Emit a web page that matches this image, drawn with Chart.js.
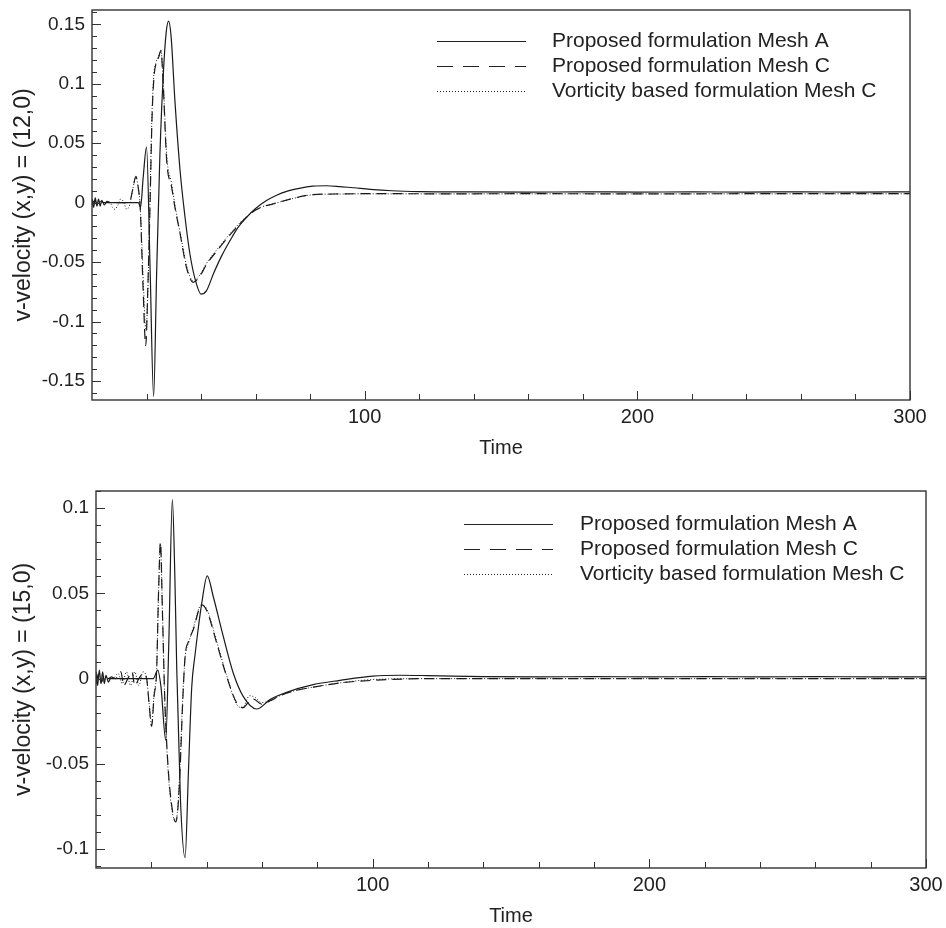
<!DOCTYPE html>
<html>
<head>
<meta charset="utf-8">
<script src="https://cdn.jsdelivr.net/npm/chart.js@4.4.1/dist/chart.umd.min.js"></script>
<style>
  body { margin: 0; background: #fff; }
  .area { position: absolute; left: 0; width: 946px; }
  #area-12 { top: 0; height: 460px; }
  #area-15 { top: 460px; height: 468px; }
</style>
</head>
<body>
<div class="area" id="area-12"><canvas id="grafico-12"></canvas></div>
<div class="area" id="area-15"><canvas id="grafico-15"></canvas></div>
<script>
const rotulos = ["Proposed formulation Mesh A", "Proposed formulation Mesh C", "Vorticity based formulation Mesh C"];
const ticksX = [100, 200, 300];
const ticksY12 = [-0.15, -0.1, -0.05, 0, 0.05, 0.1, 0.15];
const ticksY15 = [-0.1, -0.05, 0, 0.05, 0.1];

// ponto (12,0)
const tA12 = [0, 0.6, 1.2, 1.8, 2.4, 3, 3.6, 4.5, 5.5, 7, 10, 14, 17, 17.8, 18.8, 20, 21.3, 22.6, 23.7, 24.9, 26.2, 27.2, 28.1, 29, 30.4, 32.3, 34, 35.9, 38, 40, 42, 44.5, 47.5, 50.6, 53.5, 56.7, 60, 64, 67.5, 71.4, 76, 81, 86, 91, 96, 102, 110, 120, 140, 160, 180, 200, 220, 240, 260, 280, 300];
const vA12 = [0.003, -0.004, 0.004, -0.003, 0.003, -0.003, 0.002, -0.002, 0.001, 0, 0, 0, 0, -0.004, 0.022, 0.0466, -0.055, -0.163, -0.06, 0.04, 0.11, 0.143, 0.1526, 0.14, 0.086, 0.027, -0.01, -0.043, -0.066, -0.077, -0.074, -0.06, -0.045, -0.032, -0.021, -0.0124, -0.005, 0.0017, 0.006, 0.0095, 0.012, 0.0138, 0.0142, 0.0135, 0.0125, 0.0112, 0.01, 0.0093, 0.009, 0.0089, 0.009, 0.0089, 0.009, 0.0089, 0.009, 0.0089, 0.009];
const tC12 = [0, 1, 2, 3, 4.5, 6, 8, 10, 12, 14, 15, 16.1, 17, 17.7, 18.7, 19.7, 20.5, 21.3, 22, 22.7, 23.5, 24.4, 25.3, 26, 27.4, 29.2, 30.5, 32.3, 34.7, 37.1, 39.5, 42, 46, 51.8, 58, 62, 66.5, 73.8, 81, 91, 100, 110, 130, 160, 200, 250, 300];
const vC12 = [-0.002, 0.002, -0.002, 0.001, 0, 0, 0, 0, 0, 0.002, 0.012, 0.022, 0.012, -0.005, -0.07, -0.12, -0.07, 0, 0.07, 0.105, 0.117, 0.122, 0.128, 0.105, 0.035, 0.013, -0.005, -0.026, -0.055, -0.067, -0.062, -0.052, -0.04, -0.024, -0.0095, -0.004, -0.001, 0.0036, 0.0067, 0.0073, 0.0075, 0.0075, 0.0074, 0.0075, 0.0074, 0.0075, 0.0075];
const tV12 = [0, 1.5, 3, 4.5, 6.6, 7.5, 8.4, 9.5, 10.5, 11.5, 12.7, 13.8, 15, 16.1, 17, 17.7, 18.7, 19.8, 20.6, 21.3, 22, 22.7, 23.5, 24.4, 25.3, 26, 27.4, 29.2, 30.5, 32.3, 34.7, 37.1, 39.5, 42, 46, 51.8, 58, 62, 66.5, 73.8, 81, 91, 100, 110, 130, 160, 200, 250, 300];
const vV12 = [0.001, -0.001, 0.001, 0, 0, -0.004, -0.0056, -0.002, 0.003, 0.001, -0.0056, -0.002, 0.012, 0.021, 0.012, -0.004, -0.06, -0.108, -0.065, 0.005, 0.075, 0.108, 0.118, 0.123, 0.127, 0.108, 0.04, 0.016, -0.003, -0.025, -0.053, -0.066, -0.061, -0.051, -0.039, -0.023, -0.009, -0.0038, -0.001, 0.0035, 0.0066, 0.0072, 0.0074, 0.0074, 0.0074, 0.0074, 0.0074, 0.0074, 0.0074];

// ponto (15,0)
const tA15 = [0, 0.6, 1.2, 1.8, 2.4, 3, 3.6, 4.5, 5.5, 7, 10, 15, 20.7, 22.3, 23.5, 25.2, 26.3, 27.6, 28.5, 29.2, 30.5, 32.2, 33.4, 34.6, 35.8, 37, 38.2, 40.2, 42.4, 46, 49.6, 53.2, 58.1, 62.9, 68.9, 78.5, 88.2, 100, 110, 120, 140, 160, 180, 200, 220, 240, 260, 280, 300];
const vA15 = [0.004, -0.004, 0.005, -0.003, 0.004, -0.003, 0.002, -0.002, 0.001, 0, 0, 0, 0, 0.005, -0.005, -0.036, 0.02, 0.105, 0.06, 0.005, -0.07, -0.105, -0.055, -0.005, 0.014, 0.03, 0.044, 0.0603, 0.048, 0.0248, 0.0033, -0.0104, -0.0178, -0.0123, -0.008, -0.0035, -0.001, 0.0015, 0.002, 0.0018, 0.0012, 0.001, 0.0012, 0.001, 0.0012, 0.001, 0.0012, 0.001, 0.001];
const tC15 = [0, 1, 2, 3, 4, 7, 9, 10, 11.5, 13, 14, 15.5, 17, 18.3, 19.2, 20.1, 21, 21.9, 22.6, 23.3, 24, 24.9, 25.8, 26.7, 28.8, 29.5, 30.4, 31.3, 32.2, 33.5, 35.2, 38.2, 40, 43.6, 47.2, 50.8, 53.2, 55, 56.9, 59.9, 63, 66.5, 72, 78.5, 88.2, 100, 120, 160, 200, 250, 300];
const vC15 = [-0.003, 0.003, -0.002, 0.002, 0, 0, 0.004, -0.004, 0, 0.004, -0.004, 0, 0.003, 0, -0.015, -0.028, -0.01, 0.004, 0.05, 0.08, 0.04, -0.014, -0.045, -0.065, -0.084, -0.078, -0.053, -0.015, 0.013, 0.022, 0.029, 0.0433, 0.04, 0.021, 0.0014, -0.014, -0.017, -0.014, -0.012, -0.015, -0.013, -0.01, -0.007, -0.005, -0.0025, -0.001, 0, 0, 0, 0, 0];
const tV15 = [0, 2, 4, 6, 8, 9.5, 11, 12.5, 14, 15.5, 17, 18.3, 19.3, 20.1, 21, 21.9, 22.6, 23.3, 24, 24.9, 25.8, 26.7, 28.5, 29.5, 30.4, 31.3, 32.2, 33.5, 35.2, 38, 40, 43.6, 47.2, 50.8, 53, 55.5, 57.5, 59.9, 63, 66.5, 72, 78.5, 88.2, 100, 120, 160, 200, 250, 300];
const vV15 = [0.001, -0.001, 0.001, 0, 0.003, -0.003, 0.004, -0.004, 0.004, -0.004, 0.004, 0, -0.016, -0.027, -0.009, 0.005, 0.05, 0.079, 0.04, -0.016, -0.047, -0.067, -0.083, -0.077, -0.05, -0.013, 0.012, 0.021, 0.03, 0.043, 0.041, 0.022, 0.002, -0.015, -0.017, -0.01, -0.011, -0.014, -0.013, -0.01, -0.007, -0.005, -0.0025, -0.0005, 0, 0, 0, 0, 0];

Chart.defaults.font.family = "'Liberation Sans', Arial, Helvetica, sans-serif";
Chart.defaults.color = "#222";

const pontos = (t, v) => t.map((x, i) => ({ x: x, y: v[i] }));
const tracos = [[], [10, 6], [1, 2]];
const tracosLegenda = [[], [16, 10], [1, 2]];

// moldura, ticks para dentro e legenda
const moldura = {
    id: "moldura",
    afterDatasetsDraw(chart, args, opts) {
        const { ctx, chartArea: a, scales: { x, y } } = chart;
        ctx.save();
        ctx.strokeStyle = "#333";
        ctx.setLineDash([]);
        ctx.lineWidth = 1;
        ctx.beginPath();
        for (let t = 20; t <= 300; t += 20) {
            const px = Math.round(x.getPixelForValue(t)) + 0.5;
            const len = t % 100 === 0 ? 9 : 6;
            ctx.moveTo(px, a.bottom);
            ctx.lineTo(px, a.bottom - len);
        }
        const i0 = Math.ceil(y.min * 100), i1 = Math.floor(y.max * 100);
        for (let i = i0; i <= i1; i++) {
            const py = Math.round(y.getPixelForValue(i / 100)) + 0.5;
            const len = i % 5 === 0 ? 9 : 5;
            ctx.moveTo(a.left, py);
            ctx.lineTo(a.left + len, py);
        }
        ctx.stroke();
        ctx.lineWidth = 1.4;
        ctx.strokeRect(a.left, a.top, a.right - a.left, a.bottom - a.top);

        ctx.font = "21px 'Liberation Sans', Arial, sans-serif";
        ctx.textBaseline = "middle";
        ctx.fillStyle = "#222";
        chart.data.datasets.forEach((ds, i) => {
            const yy = a.top + opts.y + i * opts.gap;
            ctx.strokeStyle = "#222";
            ctx.lineWidth = 1;
            ctx.setLineDash(tracosLegenda[i]);
            ctx.beginPath();
            ctx.moveTo(a.left + opts.x, yy + 0.5);
            ctx.lineTo(a.left + opts.x + 89, yy + 0.5);
            ctx.stroke();
            ctx.fillText(ds.label, a.left + opts.texto, yy);
        });
        ctx.restore();
    }
};

function montaGrafico(id, series, ticksY, yMin, yMax, tituloY, esquerda, direita, topo, legenda) {
    new Chart(document.getElementById(id), {
        type: "line",
        data: {
            datasets: series.map((s, i) => ({
                label: rotulos[i],
                data: pontos(s[0], s[1]),
                borderColor: "#1a1a1a",
                borderWidth: i === 2 ? 1 : 1.2,
                borderDash: tracos[i],
                pointRadius: 0,
                cubicInterpolationMode: "monotone"
            }))
        },
        options: {
            responsive: true,
            maintainAspectRatio: false,
            animation: false,
            events: [],
            layout: { autoPadding: false, padding: { left: 0, right: direita, top: topo, bottom: 0 } },
            plugins: { legend: { display: false }, tooltip: { enabled: false }, moldura: legenda },
            scales: {
                x: {
                    type: "linear",
                    min: 0,
                    max: 300,
                    grid: { display: false, drawTicks: false },
                    border: { display: false },
                    afterBuildTicks: s => { s.ticks = ticksX.map(v => ({ value: v })); },
                    afterFit: s => { s.height = 60; s.paddingLeft = 0; s.paddingRight = 0; },
                    ticks: { font: { size: 20 }, padding: 5, maxRotation: 0, color: "#222" },
                    title: { display: true, text: "Time", font: { size: 20 }, padding: { top: 0, bottom: 0 }, color: "#222" }
                },
                y: {
                    min: yMin,
                    max: yMax,
                    grid: { display: false, drawTicks: false },
                    border: { display: false },
                    afterBuildTicks: s => { s.ticks = ticksY.map(v => ({ value: v })); },
                    afterFit: s => { s.width = esquerda; s.paddingTop = 0; s.paddingBottom = 0; },
                    ticks: {
                        font: { size: 19 },
                        padding: 7,
                        color: "#222",
                        callback: v => String(Number(v.toFixed(2)))
                    },
                    title: { display: true, text: tituloY, font: { size: 23 }, padding: { top: 10, bottom: 0 }, color: "#222" }
                }
            }
        },
        plugins: [moldura]
    });
}

montaGrafico("grafico-12", [[tA12, vA12], [tC12, vC12], [tV12, vV12]], ticksY12, -0.166, 0.162,
    "v-velocity (x,y) = (12,0)", 92, 36, 10, { x: 345, texto: 460, y: 31, gap: 25 });
montaGrafico("grafico-15", [[tA15, vA15], [tC15, vC15], [tV15, vV15]], ticksY15, -0.111, 0.110,
    "v-velocity (x,y) = (15,0)", 96, 20, 31, { x: 368, texto: 484, y: 33, gap: 25 });
</script>
</body>
</html>
